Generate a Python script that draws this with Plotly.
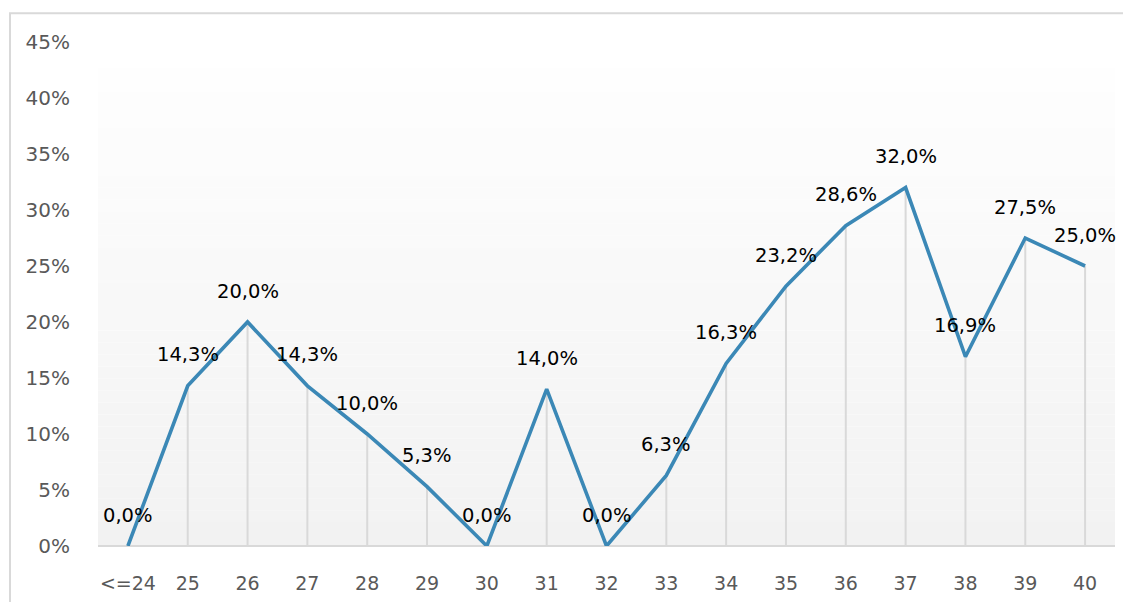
import plotly.graph_objects as go

ages = ["<=24", "25", "26", "27", "28", "29", "30", "31", "32", "33",
        "34", "35", "36", "37", "38", "39", "40"]
share = [0.0, 14.3, 20.0, 14.3, 10.0, 5.3, 0.0, 14.0, 0.0, 6.3,
         16.3, 23.2, 28.6, 32.0, 16.9, 27.5, 25.0]
y_ticks = [0, 5, 10, 15, 20, 25, 30, 35, 40, 45]
y_tick_text = [f"{v}%" for v in y_ticks]
labels = [f"{v:.1f}%".replace(".", ",") for v in share]

# page has an 8px body margin, so the figure is drawn at (8, 8)
W, H = 1115, 594
L, R, T, B = 90, 8, 34, 53
pw, ph = W - L - R, H - T - B
FONT = "DejaVu Sans"

fig = go.Figure()

# grey drop lines from each point down to the axis
fig.add_trace(go.Scatter(
    x=ages, y=share, mode="markers",
    marker=dict(size=0.1, color="rgba(0,0,0,0)"),
    error_y=dict(type="data", symmetric=False, array=[0] * len(share),
                 arrayminus=share, color="#d9d9d9", thickness=2, width=0),
    hoverinfo="skip", showlegend=False,
))

fig.add_trace(go.Scatter(
    x=ages, y=share, mode="lines",
    line=dict(color="#3b88b6", width=3.6),
    showlegend=False,
))

for i, (v, t) in enumerate(zip(share, labels)):
    fig.add_annotation(x=i, y=v, text=t, showarrow=False, yshift=31,
                       font=dict(family=FONT, size=19.5, color="#000000"))

# plot area gradient (white on top to light grey at the bottom)
top_px = 60
n = 40
y_top = (H - B - top_px) / ph
shapes = []
for i in range(n):
    y0 = y_top * i / n
    y1 = y_top * (i + 1) / n
    f = i / (n - 1)
    g = round(242 + (254 - 242) * f)
    shapes.append(dict(type="rect", xref="paper", yref="paper", x0=0, x1=1, y0=y0, y1=y1,
                       fillcolor=f"rgb({g},{g},{g})", line=dict(width=0), layer="below"))

# chart frame
shapes.append(dict(type="rect", xref="paper", yref="paper",
                   x0=(2 - L) / pw, x1=(W + 40 - L) / pw,
                   y0=-(B + 40) / ph, y1=1 + (T - 5) / ph,
                   line=dict(color="#d9d9d9", width=2), fillcolor="rgba(0,0,0,0)", layer="below"))

fig.update_layout(
    width=W, height=H,
    margin=dict(l=L, r=R, t=T, b=B),
    paper_bgcolor="white", plot_bgcolor="rgba(0,0,0,0)",
    shapes=shapes,
    font=dict(family=FONT, size=19, color="#595959"),
    showlegend=False,
)
fig.update_xaxes(
    type="category", range=[-0.5, len(ages) - 0.5],
    showgrid=False, showline=False, zeroline=False,
    ticks="outside", ticklen=20, tickcolor="rgba(0,0,0,0)",
    tickfont=dict(family=FONT, size=19, color="#595959"),
)
fig.update_yaxes(
    range=[0, 45], tickvals=y_ticks, ticktext=y_tick_text,
    showgrid=False, zeroline=True, zerolinecolor="#d9d9d9", zerolinewidth=2,
    showline=False,
    ticks="outside", ticklen=23, tickcolor="rgba(0,0,0,0)",
    tickfont=dict(family=FONT, size=20, color="#595959"),
)

fig.write_html("out.html")
